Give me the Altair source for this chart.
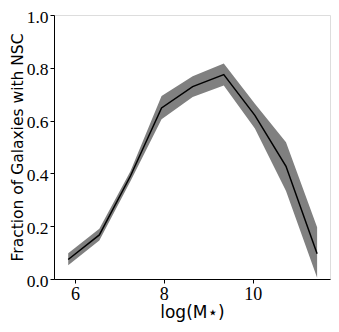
import altair as alt
import pandas as pd

log_mass = [5.85, 6.55, 7.25, 7.95, 8.65, 9.35, 10.05, 10.75, 11.45]
fraction = [0.074, 0.167, 0.39, 0.648, 0.729, 0.774, 0.62, 0.427, 0.096]
upper = [0.098, 0.19, 0.408, 0.693, 0.768, 0.816, 0.664, 0.518, 0.196]
lower = [0.052, 0.146, 0.37, 0.605, 0.689, 0.733, 0.57, 0.333, 0.005]

df = pd.DataFrame({"x": log_mass, "y": fraction, "hi": upper, "lo": lower})

xs = alt.Scale(domain=[5.53, 11.74], nice=False, zero=False)
ys = alt.Scale(domain=[0, 1], nice=False)

xaxis = alt.Axis(values=[6, 8, 10], title="log(M⋆)", labelFont="Liberation Serif",
                 labelFontSize=18, titleFont="DejaVu Sans", titleFontSize=17,
                 titleFontWeight="normal", titleColor="black", labelColor="black",
                 tickColor="black", domainColor="black", grid=False, tickSize=4,
                 labelPadding=2, titlePadding=1)
yaxis = alt.Axis(values=[0, 0.2, 0.4, 0.6, 0.8, 1.0], format=".1f",
                 title="Fraction of Galaxies with NSC", labelFont="Liberation Serif",
                 labelFontSize=17.5, titleFont="DejaVu Sans", titleFontSize=15.5,
                 titleFontWeight="normal", titleColor="black", labelColor="black",
                 tickColor="black", domainColor="black", grid=False, tickSize=4,
                 labelPadding=2, labelBaseline="middle", labelOffset=2,
                 titlePadding=1)

band = alt.Chart(df).mark_area(color="#808080", opacity=1).encode(
    x=alt.X("x:Q", scale=xs, axis=xaxis),
    y=alt.Y("lo:Q", scale=ys, axis=yaxis),
    y2="hi:Q",
)
line = alt.Chart(df).mark_line(color="black", strokeWidth=1.5).encode(
    x=alt.X("x:Q", scale=xs),
    y=alt.Y("y:Q", scale=ys),
)

chart = (band + line).properties(
    width=276, height=264,
    autosize=alt.AutoSizeParams(type="none"),
    padding={"left": 46, "top": 7, "right": 1, "bottom": 43},
).configure_view(stroke="black", strokeWidth=1).configure(background="white")

chart.save("out.html", embed_options={"renderer": "svg", "actions": False})
